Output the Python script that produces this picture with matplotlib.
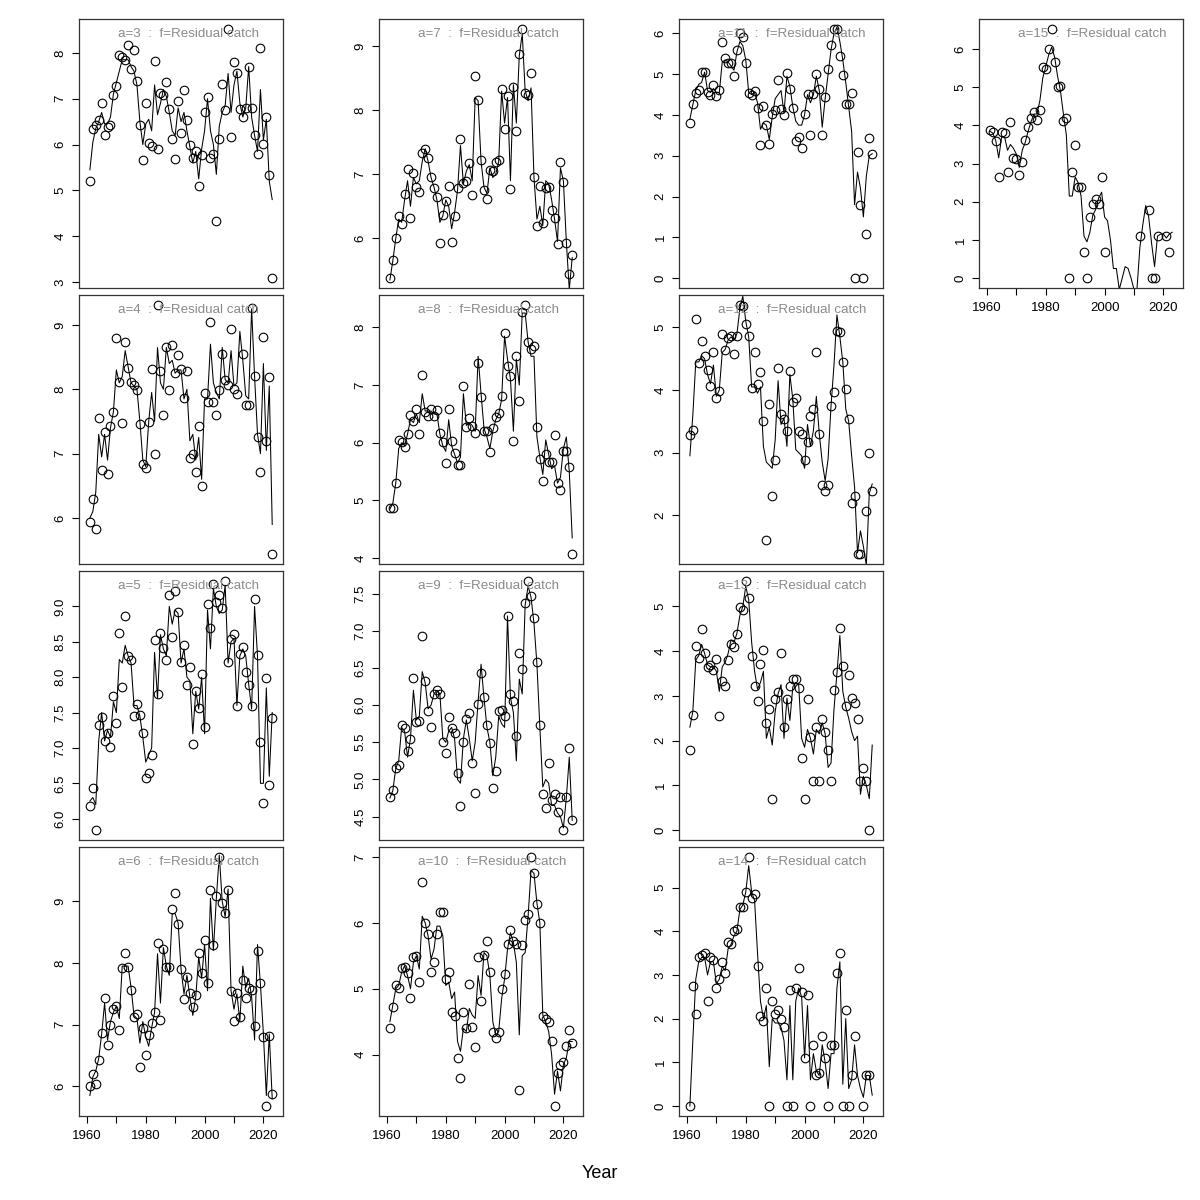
import numpy as np
import matplotlib
matplotlib.use('Agg')
import matplotlib.pyplot as plt

plt.rcParams['font.family'] = ['Liberation Sans', 'DejaVu Sans']

nan = float('nan')
years = list(range(1961, 2024))

obs_a3 = [5.21, 6.33, 6.43, 6.53, 6.91, 6.20, 6.39, 6.43, 7.09, 7.28,
          7.96, 7.91, 7.84, 8.17, 7.64, 8.07, 7.39, 6.42, 5.66, 6.91,
          6.03, 5.96, 7.83, 5.91, 7.12, 7.07, 7.37, 6.77, 6.12, 5.69,
          6.95, 6.26, 7.19, 6.54, 5.99, 5.70, 5.85, 5.09, 5.78, 6.70,
          7.04, 5.70, 5.80, 4.33, 6.12, 7.32, 6.75, 8.52, 6.16, 7.79,
          7.57, 6.77, 6.59, 6.79, 7.70, 6.80, 6.20, 5.80, 8.10, 6.01,
          6.61, 5.34, 3.09]
fit_a3 = [5.45, 6.05, 6.35, 6.5, 6.7, 6.45, 6.45, 6.6, 7.1, 7.35,
          7.6, 7.85, 7.85, 7.85, 7.7, 7.6, 7.3, 6.5, 6.0, 6.45,
          6.55, 6.3, 7.3, 6.65, 6.9, 7.2, 7.05, 6.7, 6.3, 6.2,
          6.8, 6.5, 6.7, 6.3, 5.95, 5.6, 5.85, 5.25, 5.9, 6.3,
          7.0, 6.3, 6.0, 5.35, 6.4, 6.7, 6.85, 7.55, 6.7, 7.3,
          7.6, 6.9, 6.6, 6.8, 7.7, 6.6, 6.2, 5.85, 7.2, 6.1,
          6.55, 5.2, 4.8]

obs_a4 = [5.94, 6.29, 5.83, 7.56, 6.74, 7.34, 6.68, 7.43, 7.64, 8.79,
          8.11, 7.48, 8.74, 8.33, 8.12, 8.07, 7.99, 7.46, 6.84, 6.78,
          7.49, 8.32, 7.00, 9.31, 8.29, 7.60, 8.66, 7.99, 8.69, 8.26,
          8.54, 8.31, 7.87, 8.29, 6.93, 6.99, 6.72, 7.43, 6.49, 7.94,
          7.80, 9.04, 7.80, 7.60, 7.99, 8.55, 8.14, 8.07, 8.94, 8.01,
          7.93, nan, 8.55, 7.76, 7.76, 9.26, 8.20, 7.26, 6.72, 8.81,
          7.20, 8.19, 5.44]
fit_a4 = [6.0, 6.1, 6.4, 7.3, 6.95, 7.3, 6.9, 7.4, 7.65, 8.3,
          8.1, 8.2, 8.6, 8.35, 8.1, 8.05, 8.0, 7.5, 6.9, 6.8,
          7.5, 7.95, 7.5, 8.65, 8.1, 8.0, 8.65, 8.4, 8.45, 8.25,
          8.3, 8.3, 7.85, 8.0, 7.2, 7.3, 6.9, 7.25, 6.6, 7.85,
          7.85, 8.7, 8.1, 7.95, 7.85, 8.65, 8.15, 8.1, 8.6, 8.05,
          8.1, 8.9, 8.45, 7.9, 7.85, 9.25, 8.2, 7.3, 7.0, 8.4,
          7.05, 8.05, 5.9]

obs_a5 = [6.18, 6.43, 5.84, 7.32, 7.44, 7.10, 7.21, 7.02, 7.74, 7.35,
          8.63, 7.86, 8.86, 8.30, 8.24, 7.45, 7.62, 7.46, 7.21, 6.58,
          6.64, 6.90, 8.53, 7.76, 8.63, 8.41, 8.25, 9.16, 8.57, 9.22,
          8.92, 8.21, 8.45, 7.89, 8.15, 7.05, 7.80, 7.56, 8.04, 7.30,
          9.04, 8.69, 9.32, 9.06, 9.16, 8.98, 9.36, 8.22, 8.54, 8.61,
          7.59, 8.33, 8.42, 8.07, 7.89, 7.59, 9.10, 8.31, 7.08, 6.22,
          7.99, 6.48, 7.42]
fit_a5 = [6.25, 6.3, 6.2, 7.1, 7.5, 7.1, 7.25, 7.15, 7.65, 7.5,
          8.25, 8.2, 8.45, 8.3, 8.2, 7.6, 7.6, 7.45, 7.15, 6.8,
          6.9, 7.0, 8.35, 7.7, 8.6, 8.4, 8.3, 9.0, 8.75, 8.95,
          8.9, 8.2, 8.4, 8.0, 7.95, 7.2, 7.8, 7.55, 8.0, 7.2,
          8.95, 8.4, 9.25, 9.0, 8.9, 8.95, 9.3, 8.2, 8.5, 8.55,
          7.6, 8.3, 8.4, 8.3, 7.9, 7.55, 9.0, 8.3, 6.5, 6.5,
          7.85, 6.6, 7.5]

obs_a6 = [6.00, 6.20, 6.03, 6.43, 6.87, 7.43, 6.67, 7.00, 7.25, 7.31,
          6.91, 7.92, 8.16, 7.93, 7.57, 7.13, 7.17, 6.31, 6.94, 6.51,
          6.84, 7.02, 7.20, 8.32, 7.08, 8.23, 7.94, 7.94, 8.88, 9.13,
          8.63, 7.90, 7.42, 7.77, 7.52, 7.29, 7.48, 8.16, 7.84, 8.38,
          7.67, 9.19, 8.29, 9.08, 9.72, 8.98, 8.81, 9.19, 7.54, 7.06,
          7.51, 7.13, 7.72, 7.43, 7.60, 7.56, 6.98, 8.19, 7.68, 6.80,
          5.68, 6.81, 5.88]
fit_a6 = [5.85, 6.15, 6.25, 6.45, 6.85, 7.35, 6.75, 7.05, 7.2, 7.3,
          7.1, 7.95, 7.95, 7.95, 7.6, 7.15, 7.1, 6.7, 7.05, 6.8,
          6.65, 6.95, 7.2, 8.15, 7.35, 8.25, 7.95, 7.8, 8.8, 8.8,
          8.65, 7.9, 7.5, 7.8, 7.45, 7.15, 7.45, 8.1, 7.75, 8.3,
          7.55, 9.05, 8.2, 9.05, 9.75, 9.0, 8.75, 9.2, 7.55, 7.25,
          7.5, 7.05, 7.95, 7.6, 7.75, 7.45, 6.75, 8.3, 7.65, 6.85,
          5.85, 6.85, 5.8]

obs_a7 = [5.38, 5.66, 6.01, 6.35, 6.23, 6.70, 7.09, 6.31, 7.02, 6.80,
          6.73, 7.33, 7.40, 7.25, 6.96, 6.78, 6.64, 5.93, 6.37, 6.59,
          6.82, 5.94, 6.35, 6.78, 7.55, 6.86, 6.90, 7.17, 6.68, 8.53,
          8.16, 7.23, 6.76, 6.62, 7.07, 7.05, 7.20, 7.23, 8.33, 7.71,
          8.22, 6.77, 8.37, 7.67, 8.88, 9.27, 8.27, 8.24, 8.58, 6.96,
          6.19, 6.81, 6.24, 6.78, 6.80, 6.45, 6.32, 5.91, 7.19, 6.88,
          5.93, 5.45, 5.74]
fit_a7 = [5.35, 5.65, 6.0, 6.3, 6.25, 6.6, 6.9, 6.5, 6.95, 6.85,
          6.9, 7.2, 7.4, 7.2, 6.95, 6.8, 6.6, 6.25, 6.35, 6.6,
          6.5, 6.15, 6.4, 6.75, 7.45, 6.85, 7.05, 7.15, 6.9, 8.2,
          8.15, 7.2, 6.8, 6.7, 7.1, 6.95, 7.0, 7.2, 8.3, 7.8,
          8.2, 6.9, 8.4, 7.8, 8.85, 9.2, 8.3, 8.15, 8.35, 6.95,
          6.3, 6.5, 6.2, 6.9, 6.85, 6.6, 6.3, 5.95, 7.1, 6.9,
          5.95, 5.2, 5.7]

obs_a8 = [4.86, 4.87, 5.31, 6.05, 6.01, 5.93, 6.16, 6.48, 6.37, 6.59,
          6.15, 7.18, 6.54, 6.46, 6.59, 6.46, 6.56, 6.17, 6.02, 5.65,
          6.59, 6.03, 5.83, 5.61, 5.61, 6.98, 6.28, 6.43, 6.29, 6.17,
          7.39, 6.80, 6.20, 6.21, 5.84, 6.25, 6.44, 6.52, 6.81, 7.91,
          7.34, 7.15, 6.03, 7.50, 6.73, 8.27, 8.39, 7.74, 7.63, 7.68,
          6.28, 5.71, 5.34, 5.80, 5.67, 5.67, 6.13, 5.30, 5.18, 5.86,
          5.85, 5.58, 4.07]
fit_a8 = [4.85, 4.95, 5.3, 5.9, 6.0, 5.95, 6.15, 6.4, 6.35, 6.5,
          6.35, 6.85, 6.55, 6.55, 6.55, 6.5, 6.5, 6.15, 5.95, 5.85,
          6.4, 5.95, 5.8, 5.65, 5.75, 6.85, 6.3, 6.35, 6.3, 6.2,
          7.5, 6.85, 6.25, 6.1, 5.9, 6.2, 6.4, 6.5, 6.75, 7.85,
          7.45, 7.1, 6.2, 7.45, 7.0, 8.25, 8.25, 7.75, 7.5, 7.5,
          6.1, 5.75, 5.45, 6.05, 5.8, 5.55, 5.6, 5.3, 5.4, 5.9,
          6.1, 5.5, 4.35]

obs_a9 = [4.76, 4.86, 5.16, 5.19, 5.73, 5.69, 5.38, 5.54, 6.37, 5.77,
          5.79, 6.93, 6.32, 5.92, 5.71, 6.15, 6.21, 6.15, 5.51, 5.36,
          5.84, 5.69, 5.62, 5.09, 4.64, 5.51, 5.82, 5.90, 5.22, 4.82,
          6.01, 6.43, 6.11, 5.73, 5.49, 4.88, 5.11, 5.92, 5.94, 5.86,
          7.20, 6.15, 6.05, 5.58, 6.70, 6.49, 7.37, 7.67, 7.47, 7.17,
          6.58, 5.73, 4.81, 4.61, 5.22, 4.73, 4.80, 4.56, 4.76, 4.32,
          4.76, 5.43, 4.45]
fit_a9 = [4.75, 4.85, 5.15, 5.25, 5.7, 5.65, 5.3, 5.55, 6.2, 5.8,
          5.85, 6.45, 6.3, 5.95, 6.0, 6.15, 6.2, 6.15, 5.55, 5.5,
          5.65, 5.7, 5.55, 5.0, 4.95, 5.55, 5.8, 5.55, 5.25, 5.5,
          6.05, 6.55, 6.1, 5.7, 5.5, 5.05, 5.3, 5.85, 5.75, 5.7,
          7.2, 6.1, 5.9, 5.25, 6.35, 6.15, 7.35, 7.6, 7.45, 7.1,
          6.55, 5.7, 4.9, 5.0, 4.95, 4.65, 4.65, 4.55, 4.5, 4.35,
          4.75, 5.3, 4.45]

obs_a10 = [4.41, 4.73, 5.06, 5.01, 5.31, 5.33, 5.24, 4.86, 5.48, 5.49,
           5.10, 6.62, 6.00, 5.83, 5.26, 5.41, 5.83, 6.16, 6.16, 5.15,
           5.26, 4.65, 4.58, 3.95, 3.64, 4.64, 4.40, 5.07, 4.42, 4.11,
           5.48, 4.81, 5.51, 5.72, 5.26, 4.34, 4.26, 4.34, 4.99, 5.23,
           5.68, 5.89, 5.73, 5.68, 3.46, 5.67, 6.04, 6.14, 7.00, 6.76,
           6.28, 6.00, 4.58, 4.54, 4.49, 4.20, 3.22, 3.72, 3.85, 3.89,
           4.13, 4.37, 4.17]
fit_a10 = [4.5, 4.75, 5.0, 5.05, 5.25, 5.35, 5.2, 5.0, 5.4, 5.5,
           5.3, 6.1, 6.0, 5.8, 5.45, 5.6, 5.95, 5.95, 5.8, 5.05,
           5.1, 4.85, 4.95, 4.2, 4.05, 4.4, 4.35, 4.7, 4.6, 4.55,
           5.2, 4.9, 5.55, 5.5, 5.2, 4.5, 4.3, 4.35, 4.85, 5.15,
           5.6, 5.85, 5.7, 5.4, 4.3, 5.5, 5.55, 6.1, 6.8, 6.75,
           6.3, 6.0, 4.6, 4.5, 4.35, 4.0, 3.4, 3.75, 3.45, 3.85,
           3.95, 4.2, 4.2]

obs_a11 = [3.81, 4.26, 4.54, 4.61, 5.05, 5.05, 4.57, 4.49, 4.73, 4.46,
           4.61, 5.80, 5.39, 5.28, 5.27, 4.96, 5.60, 6.02, 5.91, 5.28,
           4.53, 4.48, 4.59, 4.18, 3.26, 4.21, 3.76, 3.30, 4.02, 4.11,
           4.86, 4.14, 4.00, 5.03, 4.64, 4.16, 3.36, 3.47, 3.18, 4.03,
           4.51, 3.51, 4.52, 5.00, 4.64, 3.51, 4.43, 5.12, 5.72, 6.11,
           6.11, 5.45, 4.98, 4.27, 4.27, 4.54, 0.0, 3.09, 1.79, 0.0,
           1.09, 3.44, 3.04]
fit_a11 = [3.9, 4.25, 4.6, 4.75, 4.8, 5.05, 4.6, 4.55, 4.65, 4.55,
           4.55, 5.3, 5.35, 5.3, 5.2, 5.1, 5.55, 5.8, 5.7, 5.35,
           4.55, 4.5, 4.55, 4.3, 3.65, 3.8, 3.75, 3.4, 3.95, 4.4,
           4.5, 4.6, 4.05, 4.95, 4.7, 4.2, 3.85, 3.75, 3.75, 4.0,
           4.5, 4.3, 4.5, 4.95, 4.6, 3.7, 4.4, 5.0, 5.6, 6.0,
           6.15, 5.8, 5.35, 4.8, 4.2, 3.6, 1.8, 2.6, 2.2, 1.5,
           2.5, 3.0, 3.05]

obs_a12 = [3.29, 3.36, 5.14, 4.43, 4.79, 4.55, 4.32, 4.07, 4.61, 3.87,
           3.99, 4.90, 4.64, 4.84, 4.86, 4.57, 4.87, 5.36, 5.35, 5.06,
           4.86, 4.03, 4.61, 4.09, 4.29, 3.50, 1.60, 3.77, 2.30, 2.88,
           4.35, 3.62, 3.53, 3.34, 4.30, 3.81, 3.88, 3.34, 3.30, 2.89,
           3.17, 3.58, 3.69, 4.61, 3.30, 2.48, 2.39, 2.48, 3.74, 3.97,
           4.95, 4.93, 4.45, 4.01, 3.53, 2.20, 2.30, 1.38, 1.38, nan,
           2.07, 3.00, 2.39]
fit_a12 = [2.95, 3.6, 4.45, 4.45, 4.55, 4.5, 4.25, 4.1, 4.4, 3.9,
           4.0, 4.6, 4.65, 4.8, 4.85, 4.8, 4.9, 5.3, 5.5, 5.1,
           4.85, 4.05, 4.05, 3.95, 4.05, 3.1, 2.85, 2.8, 2.75, 3.2,
           4.15, 3.45, 3.55, 3.1, 4.25, 3.85, 3.05, 3.0, 2.95, 2.75,
           3.45, 3.1, 3.35, 3.9, 3.3, 2.85, 2.55, 2.9, 3.75, 4.4,
           5.2, 4.85, 4.45, 3.7, 3.5, 2.95, 2.45, 1.4, 1.75, 1.5,
           1.2, 2.35, 2.5]

obs_a13 = [1.80, 2.57, 4.12, 3.85, 4.49, 3.95, 3.64, 3.68, 3.58, 3.83,
           2.56, 3.33, 3.22, 3.80, 4.17, 4.09, 4.38, 4.99, 4.91, 5.57,
           5.18, 3.89, 3.22, 2.89, 3.71, 4.03, 2.40, 2.70, 0.69, 2.94,
           3.09, 3.96, 2.30, 2.94, 3.22, 3.37, 3.37, 3.18, 1.61, 0.69,
           2.94, 2.08, 1.09, 2.30, 1.09, 2.49, 2.20, 1.80, 1.09, 3.14,
           3.53, 4.52, 3.67, 2.78, 3.47, 2.95, 2.84, 2.49, 1.09, 1.39,
           1.09, 0.0, nan]
fit_a13 = [2.3, 2.65, 3.8, 3.9, 4.15, 3.95, 3.7, 3.65, 3.65, 3.55,
           3.1, 3.65, 3.75, 3.95, 4.25, 4.2, 4.4, 4.8, 5.0, 5.45,
           5.15, 4.2, 3.55, 3.15, 3.3, 3.55, 2.05, 2.3, 1.9, 2.65,
           3.05, 3.25, 2.05, 2.95, 2.45, 3.2, 3.3, 3.25, 2.05, 1.85,
           2.25, 2.05, 1.7, 2.25, 2.15, 2.4, 2.15, 1.4, 1.5, 2.7,
           3.5, 4.35, 3.1, 2.75, 2.5, 2.2, 2.0, 2.1, 0.8, 1.2,
           1.0, 0.7, 1.9]

obs_a14 = [0.0, 2.75, 2.1, 3.4, 3.45, 3.5, 2.4, 3.4, 3.35, 2.7,
           2.9, 3.3, 3.05, 3.75, 3.7, 4.0, 4.05, 4.55, 4.55, 4.9,
           5.7, 4.75, 4.85, 3.2, 2.05, 1.95, 2.7, 0.0, 2.4, 2.1,
           2.2, 2.0, 1.8, 0.0, 2.65, 0.0, 2.7, 3.15, 2.6, 1.1,
           2.55, 0.0, 1.4, 0.7, 0.75, 1.6, 1.1, 0.0, 1.4, 1.4,
           3.05, 3.5, 0.0, 2.2, 0.0, 0.7, 1.6, nan, nan, 0.0,
           0.7, 0.7, nan]
fit_a14 = [0.0, 1.5, 2.9, 3.3, 3.4, 3.4, 3.0, 3.3, 3.3, 2.8,
           2.9, 3.2, 3.1, 3.6, 3.7, 3.9, 4.0, 4.5, 4.6, 4.9,
           5.5, 4.9, 4.7, 3.5, 2.4, 2.0, 2.3, 0.9, 2.0, 1.9,
           1.9, 1.8, 1.5, 0.6, 2.3, 0.6, 2.4, 2.7, 2.5, 1.1,
           2.3, 0.6, 1.2, 0.8, 0.7, 1.4, 1.0, 0.4, 1.2, 1.2,
           2.7, 3.3, 0.5, 2.0, 0.4, 0.6, 1.4, 0.7, 0.4, 0.2,
           0.7, 0.7, 0.25]

obs_a15 = [3.87, 3.84, 3.58, 2.64, 3.82, 3.80, 2.77, 4.08, 3.16, 3.13,
           2.71, 3.05, 3.61, 3.95, 4.20, 4.34, 4.14, 4.41, 5.53, 5.47,
           6.01, 6.53, 5.67, 5.02, 5.03, 4.12, 4.19, 0.0, 2.78, 3.49,
           2.39, 2.39, 0.68, 0.0, 1.61, 1.94, 2.07, 1.94, 2.64, 0.68,
           nan, nan, nan, nan, nan, nan, nan, nan, nan, nan,
           nan, 1.09, nan, nan, 1.79, 0.0, 0.0, 1.09, nan, nan,
           1.09, 0.68, nan]
fit_a15 = [3.85, 3.8, 3.6, 3.15, 3.7, 3.7, 3.35, 3.5, 3.4, 3.25,
           2.9, 3.35, 3.55, 3.85, 4.1, 4.3, 4.3, 4.65, 5.25, 5.55,
           5.85, 6.05, 5.8, 5.3, 4.9, 4.3, 3.75, 2.15, 2.15, 2.65,
           2.5, 2.15, 1.1, 0.95, 1.2, 1.65, 1.8, 2.1, 2.25, 1.6,
           1.5, 1.0, 0.25, 0.25, -0.3, 0.0, 0.3, 0.25, 0.0, -0.3,
           -0.3, 0.8, 1.4, 1.9, 1.6, 0.9, 0.3, 1.1, 1.15, 1.15,
           1.05, 1.15, 1.2]

ages = [3, 4, 5, 6, 7, 8, 9, 10, 11, 12, 13, 14, 15]
observed = {3: obs_a3, 4: obs_a4, 5: obs_a5, 6: obs_a6, 7: obs_a7, 8: obs_a8,
            9: obs_a9, 10: obs_a10, 11: obs_a11, 12: obs_a12, 13: obs_a13,
            14: obs_a14, 15: obs_a15}
fitted = {3: fit_a3, 4: fit_a4, 5: fit_a5, 6: fit_a6, 7: fit_a7, 8: fit_a8,
          9: fit_a9, 10: fit_a10, 11: fit_a11, 12: fit_a12, 13: fit_a13,
          14: fit_a14, 15: fit_a15}
yticks = {3: [3, 4, 5, 6, 7, 8], 4: [6, 7, 8, 9],
          5: [6.0, 6.5, 7.0, 7.5, 8.0, 8.5, 9.0], 6: [6, 7, 8, 9],
          7: [6, 7, 8, 9], 8: [4, 5, 6, 7, 8],
          9: [4.5, 5.0, 5.5, 6.0, 6.5, 7.0, 7.5], 10: [4, 5, 6, 7],
          11: [0, 1, 2, 3, 4, 5, 6], 12: [2, 3, 4, 5],
          13: [0, 1, 2, 3, 4, 5], 14: [0, 1, 2, 3, 4, 5],
          15: [0, 1, 2, 3, 4, 5, 6]}
decimal_ticks = {5, 9}
xtick_years = [1960, 1970, 1980, 1990, 2000, 2010, 2020]
xtick_labels = ['1960', '', '1980', '', '2000', '', '2020']
title_fmt = 'a={}  :  f=Residual catch'
xlabel_text = 'Year'

W = H = 1200
fig = plt.figure(figsize=(12, 12), dpi=100)

col_left = [79.3, 379.3, 679.3, 979.3]
row_top = [19, 295, 571, 847]
box_w, box_h = 203.5, 269

bottom_panels = {6, 10, 14, 15}

for a in ages:
    if a <= 14:
        col = (a - 3) // 4
        row = (a - 3) % 4
    else:
        col, row = 3, 0
    l = col_left[col] / W
    b = 1 - (row_top[row] + box_h) / H
    ax = fig.add_axes([l, b, box_w / W, box_h / H])
    o = np.array(observed[a], dtype=float)
    f = np.array(fitted[a], dtype=float)
    yrs = np.array(years)
    ax.plot(yrs, f, color='black', lw=0.75)
    ax.plot(yrs, o, linestyle='none', marker='o', ms=6.2, mfc='none',
            mec='black', mew=0.8)
    lo, hi = np.nanmin(o), np.nanmax(o)
    pad = 0.04 * (hi - lo)
    ax.set_ylim(lo - pad, hi + pad)
    ax.set_xlim(1957.4, 2026.6)
    yt = yticks[a]
    ax.set_yticks(yt)
    if a in decimal_ticks:
        ax.set_yticklabels(['%.1f' % v for v in yt])
    else:
        ax.set_yticklabels(['%d' % v for v in yt])
    ax.tick_params(axis='y', labelrotation=90, length=5, width=0.8,
                   labelsize=9.5, pad=4)
    for lab in ax.get_yticklabels():
        lab.set_va('center')
    if a in bottom_panels:
        ax.set_xticks(xtick_years)
        ax.set_xticklabels(xtick_labels)
        ax.tick_params(axis='x', length=5, width=0.8, labelsize=9.5, pad=5)
    else:
        ax.set_xticks([])
    for s in ax.spines.values():
        s.set_linewidth(0.9)
        s.set_color('#333333')
    ax.text(0.19, 0.943, title_fmt.format(a), transform=ax.transAxes,
            ha='left', va='center', color='#8a8a8a', fontsize=9.6)

fig.text(600 / W, 1 - 1174 / H, xlabel_text, ha='center', va='center',
         fontsize=13)

fig.savefig('out.png', dpi=100)
